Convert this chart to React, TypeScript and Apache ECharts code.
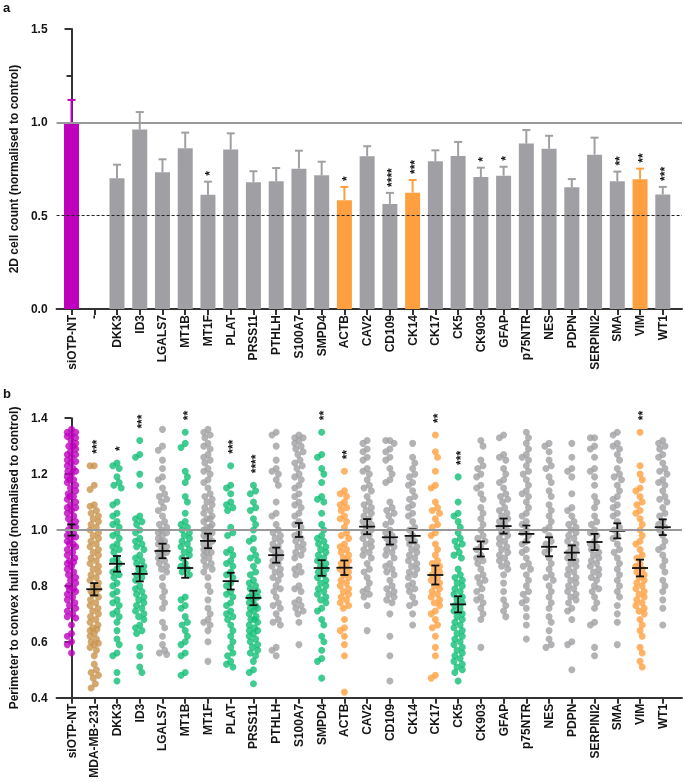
import React, { useEffect, useRef } from "react";
import * as echarts from "echarts";

// ---------- Panel a data ----------
const catsA = ["siOTP-NT", "-", "DKK3", "ID3", "LGALS7", "MT1B", "MT1F", "PLAT", "PRSS11", "PTHLH", "S100A7", "SMPD4", "ACTB", "CAV2", "CD109", "CK14", "CK17", "CK5", "CK903", "GFAP", "p75NTR", "NES", "PDPN", "SERPINI2", "SMA", "VIM", "WT1"];
const barValues = [1.0, null, 0.70, 0.961, 0.732, 0.861, 0.612, 0.854, 0.679, 0.684, 0.752, 0.716, 0.582, 0.818, 0.563, 0.623, 0.791, 0.82, 0.707, 0.714, 0.886, 0.859, 0.652, 0.827, 0.684, 0.695, 0.614];
const barErrors = [0.12, null, 0.073, 0.094, 0.07, 0.084, 0.07, 0.087, 0.059, 0.071, 0.096, 0.073, 0.072, 0.054, 0.059, 0.068, 0.059, 0.075, 0.05, 0.048, 0.073, 0.069, 0.044, 0.091, 0.052, 0.057, 0.04];
const barGroups = ["m", "", "g", "g", "g", "g", "g", "g", "g", "g", "g", "g", "o", "g", "g", "o", "g", "g", "g", "g", "g", "g", "g", "g", "g", "o", "g"];
const starsA = ["", "", "", "", "", "", "*", "", "", "", "", "", "*", "", "****", "***", "", "", "*", "*", "", "", "", "", "**", "**", "***"];
const ticksA = [0, 0.5, 1.0, 1.5];

// ---------- Panel b data ----------
const catsB = ["siOTP-NT", "MDA-MB-231", "DKK3", "ID3", "LGALS7", "MT1B", "MT1F", "PLAT", "PRSS11", "PTHLH", "S100A7", "SMPD4", "ACTB", "CAV2", "CD109", "CK14", "CK17", "CK5", "CK903", "GFAP", "p75NTR", "NES", "PDPN", "SERPINI2", "SMA", "VIM", "WT1"];
const groupsB = ["m", "t", "gr", "gr", "g", "gr", "g", "gr", "gr", "g", "g", "gr", "o", "g", "g", "g", "o", "gr", "g", "g", "g", "g", "g", "g", "g", "o", "g"];
const meansB = [1.0, 0.788, 0.879, 0.843, 0.925, 0.864, 0.961, 0.817, 0.757, 0.91, 1.0, 0.864, 0.865, 1.012, 0.974, 0.979, 0.839, 0.734, 0.932, 1.014, 0.986, 0.94, 0.919, 0.957, 0.997, 0.864, 1.01];
const semB = [0.02, 0.022, 0.028, 0.027, 0.026, 0.035, 0.026, 0.03, 0.026, 0.027, 0.025, 0.028, 0.026, 0.027, 0.026, 0.024, 0.034, 0.029, 0.027, 0.027, 0.03, 0.034, 0.026, 0.029, 0.027, 0.03, 0.028];
const starsB = ["", "***", "*", "***", "", "**", "", "***", "****", "", "", "**", "**", "", "", "", "**", "***", "", "", "", "", "", "", "", "**", ""];

const dotsSiOTP = [1.36, 1.35, 1.35, 1.34, 1.335, 1.33, 1.32, 1.31, 1.30, 1.30, 1.29, 1.28, 1.27, 1.27, 1.26, 1.25, 1.245, 1.24, 1.23, 1.22, 1.21, 1.21, 1.20, 1.19, 1.18, 1.18, 1.17, 1.16, 1.15, 1.14, 1.13, 1.12, 1.12, 1.11, 1.10, 1.09, 1.08, 1.08, 1.07, 1.06, 1.05, 1.04, 1.03, 1.02, 1.01, 1.00, 0.99, 0.98, 0.975, 0.97, 0.96, 0.95, 0.95, 0.94, 0.93, 0.92, 0.91, 0.90, 0.89, 0.885, 0.88, 0.87, 0.86, 0.85, 0.84, 0.83, 0.82, 0.81, 0.80, 0.79, 0.785, 0.78, 0.77, 0.76, 0.75, 0.74, 0.73, 0.72, 0.71, 0.70, 0.69, 0.685, 0.66, 0.63, 0.62, 0.60, 0.59, 0.56];
const dotsMDA = [1.23, 1.23, 1.16, 1.145, 1.09, 1.085, 1.07, 1.06, 1.05, 1.04, 1.03, 1.02, 1.01, 1.0, 0.99, 0.98, 0.97, 0.96, 0.95, 0.94, 0.93, 0.92, 0.91, 0.90, 0.89, 0.88, 0.87, 0.86, 0.85, 0.84, 0.83, 0.82, 0.81, 0.80, 0.79, 0.78, 0.775, 0.77, 0.76, 0.75, 0.74, 0.73, 0.72, 0.71, 0.70, 0.69, 0.68, 0.67, 0.66, 0.65, 0.645, 0.64, 0.63, 0.62, 0.61, 0.60, 0.595, 0.59, 0.58, 0.57, 0.55, 0.52, 0.50, 0.49, 0.48, 0.47, 0.45, 0.435];
const dotsDKK3 = [1.24, 1.23, 1.22, 1.19, 1.17, 1.16, 1.15, 1.10, 1.09, 1.06, 1.05, 1.03, 1.02, 1.01, 0.99, 0.98, 0.97, 0.95, 0.94, 0.93, 0.92, 0.90, 0.89, 0.88, 0.86, 0.85, 0.84, 0.83, 0.81, 0.80, 0.78, 0.77, 0.75, 0.74, 0.73, 0.71, 0.70, 0.69, 0.67, 0.64, 0.61, 0.59, 0.56, 0.55, 0.49, 0.46];
const dotsID3 = [1.32, 1.27, 1.26, 1.20, 1.16, 1.05, 1.04, 1.03, 1.02, 1.0, 0.99, 0.97, 0.96, 0.95, 0.94, 0.93, 0.91, 0.90, 0.89, 0.88, 0.87, 0.86, 0.85, 0.84, 0.83, 0.82, 0.80, 0.79, 0.78, 0.77, 0.76, 0.75, 0.74, 0.73, 0.72, 0.71, 0.70, 0.69, 0.68, 0.66, 0.65, 0.64, 0.63, 0.58, 0.55, 0.51, 0.49];
const dotsLGALS7 = [1.36, 1.30, 1.285, 1.25, 1.22, 1.19, 1.18, 1.15, 1.13, 1.12, 1.11, 1.10, 1.08, 1.07, 1.05, 1.03, 1.02, 1.01, 1.0, 0.99, 0.99, 0.98, 0.97, 0.96, 0.96, 0.95, 0.94, 0.93, 0.92, 0.92, 0.91, 0.90, 0.89, 0.88, 0.87, 0.86, 0.85, 0.83, 0.80, 0.78, 0.76, 0.74, 0.72, 0.67, 0.65, 0.62, 0.59, 0.57, 0.56, 0.555];
const dotsMT1B = [1.35, 1.31, 1.295, 1.21, 1.19, 1.17, 1.12, 1.10, 1.06, 1.03, 1.02, 1.01, 1.0, 0.99, 0.98, 0.97, 0.96, 0.95, 0.94, 0.93, 0.92, 0.91, 0.90, 0.88, 0.87, 0.86, 0.85, 0.84, 0.76, 0.75, 0.73, 0.72, 0.69, 0.67, 0.66, 0.64, 0.62, 0.60, 0.59, 0.56, 0.55, 0.49, 0.48];
const dotsMT1F = [1.36, 1.35, 1.34, 1.33, 1.31, 1.30, 1.29, 1.27, 1.26, 1.25, 1.24, 1.22, 1.21, 1.20, 1.18, 1.17, 1.15, 1.13, 1.12, 1.11, 1.10, 1.09, 1.08, 1.07, 1.06, 1.05, 1.04, 1.04, 1.03, 1.02, 1.01, 1.01, 1.0, 0.99, 0.99, 0.98, 0.97, 0.97, 0.96, 0.95, 0.94, 0.93, 0.92, 0.92, 0.91, 0.90, 0.89, 0.88, 0.87, 0.86, 0.85, 0.83, 0.80, 0.78, 0.75, 0.72, 0.70, 0.68, 0.67, 0.66, 0.64, 0.60, 0.53];
const dotsPLAT = [1.23, 1.16, 1.15, 1.13, 1.10, 1.09, 1.08, 1.07, 1.01, 0.99, 0.98, 0.93, 0.92, 0.91, 0.89, 0.88, 0.87, 0.85, 0.84, 0.83, 0.81, 0.80, 0.78, 0.77, 0.76, 0.74, 0.73, 0.71, 0.70, 0.69, 0.68, 0.66, 0.64, 0.62, 0.60, 0.58, 0.56, 0.55, 0.53, 0.52, 0.51];
const dotsPRSS11 = [1.16, 1.14, 1.13, 1.10, 1.08, 1.07, 1.04, 1.02, 1.0, 0.97, 0.96, 0.93, 0.91, 0.90, 0.89, 0.87, 0.85, 0.84, 0.82, 0.81, 0.80, 0.79, 0.78, 0.77, 0.76, 0.76, 0.75, 0.74, 0.73, 0.72, 0.72, 0.71, 0.70, 0.69, 0.68, 0.68, 0.67, 0.66, 0.65, 0.64, 0.64, 0.63, 0.62, 0.61, 0.60, 0.59, 0.58, 0.57, 0.56, 0.55, 0.53, 0.50, 0.49, 0.45];
const dotsPTHLH = [1.35, 1.34, 1.30, 1.25, 1.22, 1.21, 1.20, 1.18, 1.16, 1.10, 1.06, 1.05, 1.02, 1.0, 0.99, 0.98, 0.97, 0.96, 0.95, 0.94, 0.93, 0.92, 0.91, 0.90, 0.89, 0.88, 0.87, 0.86, 0.85, 0.84, 0.83, 0.82, 0.80, 0.79, 0.78, 0.76, 0.74, 0.73, 0.72, 0.70, 0.68, 0.67, 0.66, 0.58, 0.57, 0.55];
const dotsS100A7 = [1.34, 1.33, 1.33, 1.32, 1.31, 1.30, 1.29, 1.28, 1.27, 1.25, 1.24, 1.23, 1.22, 1.20, 1.19, 1.18, 1.16, 1.15, 1.13, 1.12, 1.10, 1.09, 1.08, 1.06, 1.05, 1.03, 1.02, 1.01, 0.99, 0.98, 0.97, 0.96, 0.95, 0.94, 0.93, 0.92, 0.91, 0.90, 0.87, 0.86, 0.85, 0.84, 0.80, 0.79, 0.78, 0.75, 0.74, 0.73, 0.72, 0.71, 0.70, 0.67, 0.59];
const dotsSMPD4 = [1.35, 1.27, 1.26, 1.22, 1.20, 1.17, 1.12, 1.11, 1.10, 1.06, 1.02, 1.0, 0.98, 0.97, 0.96, 0.95, 0.94, 0.93, 0.92, 0.91, 0.90, 0.89, 0.88, 0.87, 0.86, 0.85, 0.84, 0.83, 0.82, 0.81, 0.80, 0.79, 0.78, 0.77, 0.76, 0.75, 0.74, 0.72, 0.71, 0.68, 0.66, 0.62, 0.60, 0.57, 0.54, 0.53, 0.47];
const dotsACTB = [1.21, 1.14, 1.13, 1.12, 1.10, 1.09, 1.08, 1.07, 1.05, 1.04, 1.03, 1.01, 0.99, 0.98, 0.97, 0.95, 0.94, 0.93, 0.92, 0.91, 0.90, 0.89, 0.88, 0.87, 0.86, 0.85, 0.84, 0.83, 0.82, 0.81, 0.80, 0.79, 0.78, 0.77, 0.76, 0.75, 0.74, 0.73, 0.72, 0.68, 0.65, 0.64, 0.62, 0.59, 0.55, 0.42];
const dotsCAV2 = [1.32, 1.31, 1.29, 1.28, 1.26, 1.25, 1.22, 1.21, 1.20, 1.18, 1.16, 1.15, 1.14, 1.12, 1.10, 1.09, 1.08, 1.07, 1.06, 1.05, 1.04, 1.03, 1.02, 1.01, 1.0, 0.99, 0.98, 0.97, 0.96, 0.95, 0.94, 0.93, 0.92, 0.91, 0.90, 0.88, 0.86, 0.85, 0.83, 0.81, 0.79, 0.78, 0.77, 0.76, 0.73, 0.64];
const dotsCD109 = [1.32, 1.32, 1.31, 1.29, 1.28, 1.26, 1.25, 1.22, 1.20, 1.18, 1.17, 1.10, 1.08, 1.07, 1.06, 1.05, 1.03, 1.02, 1.0, 0.99, 0.98, 0.97, 0.96, 0.95, 0.94, 0.93, 0.92, 0.91, 0.90, 0.88, 0.87, 0.86, 0.85, 0.84, 0.82, 0.80, 0.79, 0.78, 0.77, 0.76, 0.75, 0.74, 0.70, 0.62, 0.55, 0.46];
const dotsCK14 = [1.31, 1.26, 1.24, 1.22, 1.20, 1.19, 1.17, 1.16, 1.14, 1.12, 1.11, 1.09, 1.08, 1.06, 1.05, 1.03, 1.01, 1.0, 0.98, 0.97, 0.96, 0.95, 0.94, 0.93, 0.92, 0.91, 0.90, 0.89, 0.88, 0.87, 0.86, 0.85, 0.84, 0.83, 0.81, 0.80, 0.79, 0.78, 0.76, 0.74, 0.73, 0.70, 0.66];
const dotsCK17 = [1.34, 1.28, 1.26, 1.21, 1.16, 1.15, 1.10, 1.08, 1.07, 1.06, 1.04, 1.02, 1.01, 0.99, 0.98, 0.95, 0.93, 0.91, 0.89, 0.88, 0.87, 0.86, 0.85, 0.84, 0.83, 0.82, 0.81, 0.80, 0.79, 0.78, 0.77, 0.76, 0.75, 0.74, 0.73, 0.71, 0.70, 0.68, 0.66, 0.65, 0.62, 0.58, 0.55, 0.48, 0.47];
const dotsCK5 = [1.19, 1.10, 1.06, 1.05, 1.03, 1.01, 0.99, 0.97, 0.96, 0.95, 0.94, 0.92, 0.91, 0.90, 0.86, 0.84, 0.83, 0.82, 0.81, 0.80, 0.79, 0.78, 0.77, 0.76, 0.75, 0.74, 0.73, 0.72, 0.71, 0.70, 0.69, 0.68, 0.67, 0.66, 0.65, 0.64, 0.63, 0.62, 0.61, 0.60, 0.59, 0.58, 0.57, 0.56, 0.55, 0.54, 0.53, 0.52, 0.51, 0.50, 0.49, 0.46];
const dotsCK903 = [1.32, 1.30, 1.25, 1.23, 1.22, 1.20, 1.19, 1.16, 1.15, 1.13, 1.11, 1.08, 1.06, 1.04, 1.02, 1.0, 0.98, 0.97, 0.96, 0.94, 0.93, 0.91, 0.90, 0.89, 0.88, 0.86, 0.84, 0.83, 0.82, 0.81, 0.79, 0.78, 0.76, 0.75, 0.74, 0.72, 0.70, 0.68, 0.58];
const dotsGFAP = [1.34, 1.33, 1.27, 1.26, 1.25, 1.22, 1.20, 1.18, 1.17, 1.15, 1.13, 1.12, 1.11, 1.10, 1.08, 1.07, 1.06, 1.05, 1.04, 1.03, 1.02, 1.01, 1.0, 0.99, 0.98, 0.97, 0.96, 0.95, 0.94, 0.93, 0.92, 0.91, 0.90, 0.89, 0.88, 0.87, 0.86, 0.84, 0.81, 0.78, 0.75, 0.73, 0.71, 0.69];
const dotsP75NTR = [1.35, 1.33, 1.31, 1.29, 1.27, 1.26, 1.25, 1.23, 1.21, 1.20, 1.18, 1.16, 1.14, 1.13, 1.12, 1.10, 1.08, 1.06, 1.05, 1.03, 1.02, 1.0, 0.99, 0.98, 0.96, 0.95, 0.93, 0.92, 0.90, 0.88, 0.87, 0.86, 0.84, 0.82, 0.80, 0.78, 0.77, 0.75, 0.74, 0.72, 0.69, 0.66, 0.61];
const dotsNES = [1.31, 1.30, 1.28, 1.25, 1.23, 1.22, 1.19, 1.17, 1.14, 1.12, 1.09, 1.07, 1.05, 1.03, 1.01, 1.0, 0.98, 0.96, 0.95, 0.93, 0.92, 0.90, 0.88, 0.86, 0.84, 0.83, 0.82, 0.80, 0.78, 0.76, 0.74, 0.72, 0.69, 0.67, 0.64, 0.61, 0.59, 0.58];
const dotsPDPN = [1.31, 1.26, 1.22, 1.21, 1.19, 1.13, 1.08, 1.07, 1.05, 1.03, 1.02, 1.01, 1.0, 0.99, 0.98, 0.97, 0.96, 0.95, 0.94, 0.93, 0.92, 0.91, 0.90, 0.89, 0.88, 0.87, 0.86, 0.85, 0.84, 0.83, 0.82, 0.81, 0.80, 0.79, 0.78, 0.77, 0.76, 0.75, 0.74, 0.72, 0.71, 0.68, 0.60, 0.59, 0.50];
const dotsSERPINI2 = [1.33, 1.33, 1.30, 1.29, 1.26, 1.22, 1.21, 1.19, 1.16, 1.12, 1.10, 1.08, 1.05, 1.03, 1.02, 1.0, 0.99, 0.98, 0.96, 0.95, 0.94, 0.93, 0.92, 0.91, 0.90, 0.89, 0.88, 0.87, 0.86, 0.85, 0.84, 0.83, 0.82, 0.80, 0.79, 0.78, 0.76, 0.74, 0.72, 0.67, 0.66, 0.58, 0.55];
const dotsSMA = [1.35, 1.34, 1.31, 1.30, 1.29, 1.27, 1.25, 1.22, 1.20, 1.19, 1.18, 1.16, 1.14, 1.12, 1.11, 1.09, 1.08, 1.06, 1.05, 1.03, 1.01, 1.0, 0.98, 0.97, 0.95, 0.93, 0.92, 0.90, 0.88, 0.86, 0.84, 0.82, 0.80, 0.78, 0.76, 0.73, 0.70, 0.67, 0.59];
const dotsVIM = [1.35, 1.23, 1.20, 1.18, 1.15, 1.14, 1.12, 1.10, 1.09, 1.07, 1.06, 1.04, 1.02, 1.0, 0.98, 0.96, 0.95, 0.93, 0.91, 0.90, 0.88, 0.87, 0.86, 0.85, 0.84, 0.83, 0.82, 0.81, 0.80, 0.79, 0.78, 0.77, 0.76, 0.75, 0.74, 0.73, 0.72, 0.71, 0.70, 0.68, 0.66, 0.64, 0.62, 0.58, 0.56, 0.53, 0.51];
const dotsWT1 = [1.32, 1.31, 1.30, 1.29, 1.27, 1.26, 1.24, 1.22, 1.21, 1.20, 1.18, 1.17, 1.16, 1.14, 1.12, 1.11, 1.10, 1.08, 1.06, 1.05, 1.03, 1.02, 1.01, 1.0, 0.98, 0.96, 0.94, 0.93, 0.91, 0.89, 0.87, 0.85, 0.82, 0.80, 0.78, 0.75, 0.72, 0.66];

const dotsB = [dotsSiOTP, dotsMDA, dotsDKK3, dotsID3, dotsLGALS7, dotsMT1B, dotsMT1F, dotsPLAT, dotsPRSS11, dotsPTHLH, dotsS100A7, dotsSMPD4, dotsACTB, dotsCAV2, dotsCD109, dotsCK14, dotsCK17, dotsCK5, dotsCK903, dotsGFAP, dotsP75NTR, dotsNES, dotsPDPN, dotsSERPINI2, dotsSMA, dotsVIM, dotsWT1];
const ticksB = [0.4, 0.6, 0.8, 1.0, 1.2, 1.4];

// ---------- styling ----------
const COLORS: Record<string, string> = {
  m: "#BE00BE",
  g: "#A0A0A4",
  o: "#FFA040",
  t: "#C8934C",
  gr: "#10BE74",
};
const FONT = "Liberation Sans, Arial, sans-serif";
const AXIS_COLOR = "#333333";
const TEXT_COLOR = "#151515";
const W = 685;
const H = 782;
const GRID_LEFT = 54;
const GRID_RIGHT = 3;
const X_MIN = -0.657;
const X_MAX = 26.845;
const A_TOP = 29, A_H = 280;
const B_TOP = 418.2, B_H = 279.5;

function swarm(values: number[], pxY: number, pxX: number, diam: number, maxHalf: number) {
  const sorted = values.slice().sort((a, b) => b - a);
  const placed: { x: number; y: number }[] = [];
  const out: [number, number][] = [];
  for (const v of sorted) {
    const y = -v * pxY;
    const cands = [0];
    for (const p of placed) {
      const dy = Math.abs(p.y - y);
      if (dy < diam) {
        const dx = Math.sqrt(diam * diam - dy * dy);
        cands.push(p.x + dx, p.x - dx);
      }
    }
    const ok = cands.filter(
      (x) => Math.abs(x) <= maxHalf + 1e-6 && placed.every((p) => (p.x - x) ** 2 + (p.y - y) ** 2 >= diam * diam - 1e-6)
    );
    let best = 0;
    if (ok.length) {
      best = ok.reduce((a, b) => (Math.abs(b) < Math.abs(a) - 1e-9 ? b : a));
    } else {
      let bestScore = -1;
      for (let k = -8; k <= 8; k++) {
        const x = (maxHalf * k) / 8;
        let md = Infinity;
        for (const p of placed) md = Math.min(md, Math.hypot(p.x - x, p.y - y));
        if (md > bestScore + 1e-9) {
          bestScore = md;
          best = x;
        }
      }
    }
    placed.push({ x: best, y });
    out.push([best / pxX, v]);
  }
  return out;
}

function xAxisFor(gridIndex: number, names: string[]) {
  const idx = names.map((_, i) => i);
  return {
    type: "value",
    gridIndex,
    min: X_MIN,
    max: X_MAX,
    axisLine: { show: true, lineStyle: { color: AXIS_COLOR, width: 2 } },
    axisTick: { show: true, customValues: idx, length: 6, lineStyle: { color: AXIS_COLOR, width: 2 } },
    axisLabel: {
      show: true,
      customValues: idx,
      rotate: 90,
      margin: 6,
      fontSize: 12,
      fontWeight: "bold",
      fontFamily: FONT,
      color: TEXT_COLOR,
      formatter: (v: number) => names[Math.round(v)] ?? "",
    },
    splitLine: { show: false },
  };
}

export default function App() {
  const ref = useRef<HTMLDivElement>(null);
  useEffect(() => {
    if (!ref.current) return;
    const chart = echarts.init(ref.current, undefined, { renderer: "svg" });
    const plotW = W - GRID_LEFT - GRID_RIGHT;
    const pxPerX = plotW / (X_MAX - X_MIN);
    const pxPerYB = B_H / 1.0;

    // panel a
    const barData: any[] = [];
    const errData: any[] = [];
    const starAData: any[] = [];
    barValues.forEach((v, i) => {
      if (v == null) return;
      const c = COLORS[barGroups[i]];
      barData.push({ value: [i, v], itemStyle: { color: c } });
      errData.push([i, v, v + (barErrors[i] as number)]);
      if (starsA[i]) starAData.push([i, v + (barErrors[i] as number)]);
    });

    // panel b
    const dotData: any[] = [];
    dotsB.forEach((vals, i) => {
      const c = COLORS[groupsB[i]];
      swarm(vals, pxPerYB, pxPerX, 6, 4.2).forEach(([dx, v]) => {
        dotData.push({ value: [i + dx, v], itemStyle: { color: c } });
      });
    });
    const meanData = meansB.map((m, i) => [i, m, m - semB[i], m + semB[i]]);
    const starBData: any[] = [];
    starsB.forEach((s, i) => {
      if (s) starBData.push([i, Math.max(...dotsB[i])]);
    });

    const yAxisCommon = {
      type: "value",
      nameLocation: "middle",
      nameRotate: 90,
      nameGap: 27,
      nameTextStyle: { fontSize: 12, fontWeight: "bold", fontFamily: FONT, color: TEXT_COLOR },
      axisLine: { show: true, lineStyle: { color: AXIS_COLOR, width: 2 } },
      axisTick: { show: true, length: 7, lineStyle: { color: AXIS_COLOR, width: 2 } },
      axisLabel: {
        fontSize: 12,
        fontWeight: "bold",
        fontFamily: FONT,
        color: TEXT_COLOR,
        margin: 9,
        formatter: (v: number) => v.toFixed(1),
      },
      splitLine: { show: false },
    };

    const errRender = (params: any, api: any) => {
      const i = Math.round(api.value(0));
      const c = COLORS[barGroups[i]];
      const p0 = api.coord([api.value(0), api.value(1)]);
      const p1 = api.coord([api.value(0), api.value(2)]);
      return {
        type: "group",
        children: [
          { type: "line", shape: { x1: p0[0], y1: p0[1], x2: p1[0], y2: p1[1] }, style: { stroke: c, lineWidth: 2 } },
          { type: "line", shape: { x1: p1[0] - 4, y1: p1[1], x2: p1[0] + 4, y2: p1[1] }, style: { stroke: c, lineWidth: 2 } },
        ],
      };
    };
    const starRender = (texts: string[], gap: number) => (params: any, api: any) => {
      const i = Math.round(api.value(0));
      const p = api.coord([api.value(0), api.value(1)]);
      return {
        type: "text",
        x: p[0] + 2.5,
        y: p[1] - gap,
        rotation: Math.PI / 2,
        style: {
          text: texts[i],
          fill: "#141414",
          fontSize: 12,
          fontWeight: "bold",
          fontFamily: FONT,
          align: "left",
          verticalAlign: "middle",
        },
      };
    };
    const meanRender = (params: any, api: any) => {
      const x = api.value(0);
      const pm = api.coord([x, api.value(1)]);
      const pl = api.coord([x, api.value(2)]);
      const ph = api.coord([x, api.value(3)]);
      const s = { stroke: "#111", lineWidth: 1.8 };
      return {
        type: "group",
        children: [
          { type: "line", shape: { x1: pm[0] - 8, y1: pm[1], x2: pm[0] + 8, y2: pm[1] }, style: s },
          { type: "line", shape: { x1: ph[0], y1: ph[1], x2: pl[0], y2: pl[1] }, style: s },
          { type: "line", shape: { x1: ph[0] - 4, y1: ph[1], x2: ph[0] + 4, y2: ph[1] }, style: s },
          { type: "line", shape: { x1: pl[0] - 4, y1: pl[1], x2: pl[0] + 4, y2: pl[1] }, style: s },
        ],
      };
    };

    const option: any = {
      animation: false,
      backgroundColor: "transparent",
      textStyle: { fontFamily: FONT },
      grid: [
        { left: GRID_LEFT, right: GRID_RIGHT, top: A_TOP, height: A_H },
        { left: GRID_LEFT, right: GRID_RIGHT, top: B_TOP, height: B_H },
      ],
      xAxis: [xAxisFor(0, catsA), xAxisFor(1, catsB)],
      yAxis: [
        {
          ...yAxisCommon,
          gridIndex: 0,
          min: ticksA[0],
          max: ticksA[ticksA.length - 1],
          interval: 0.5,
          name: "2D cell count (normalised to control)",
          minorTick: { show: true, splitNumber: 2, length: 5, lineStyle: { color: AXIS_COLOR, width: 2 } },
        },
        {
          ...yAxisCommon,
          gridIndex: 1,
          min: ticksB[0],
          max: ticksB[ticksB.length - 1],
          interval: 0.2,
          name: "Perimeter to convex hull ratio (normalised to control)",
        },
      ],
      graphic: [
        { type: "text", left: 3, top: 1, style: { text: "a", font: `bold 13px ${FONT}`, fill: "#111" } },
        { type: "text", left: 3, top: 387, style: { text: "b", font: `bold 13px ${FONT}`, fill: "#111" } },
      ],
      series: [
        {
          type: "bar",
          xAxisIndex: 0,
          yAxisIndex: 0,
          barWidth: 15,
          data: barData,
          z: 2,
        },
        {
          type: "custom",
          xAxisIndex: 0,
          yAxisIndex: 0,
          renderItem: errRender,
          data: errData,
          z: 3,
          markLine: {
            silent: true,
            symbol: "none",
            label: { show: false },
            data: [
              { yAxis: 1.0, lineStyle: { color: "#999999", width: 2, type: "solid" } },
              { yAxis: 0.5, lineStyle: { color: "#222", width: 1, type: [3, 2] } },
            ],
          },
        },
        {
          type: "custom",
          xAxisIndex: 0,
          yAxisIndex: 0,
          itemStyle: { color: "#141414" },
          renderItem: starRender(starsA, 6),
          data: starAData,
          z: 4,
        },
        {
          type: "scatter",
          xAxisIndex: 1,
          yAxisIndex: 1,
          symbolSize: 7,
          data: dotData,
          z: 2,
        },
        {
          type: "custom",
          xAxisIndex: 1,
          yAxisIndex: 1,
          renderItem: meanRender,
          data: meanData,
          z: 4,
          markLine: {
            silent: true,
            symbol: "none",
            label: { show: false },
            data: [{ yAxis: 1.0, lineStyle: { color: "#999999", width: 2, type: "solid" } }],
          },
        },
        {
          type: "custom",
          xAxisIndex: 1,
          yAxisIndex: 1,
          itemStyle: { color: "#141414" },
          renderItem: starRender(starsB, 12),
          data: starBData,
          z: 4,
        },
      ],
    };
    chart.setOption(option);
    return () => chart.dispose();
  }, []);
  return (
    <div
      ref={ref}
      style={{ position: "absolute", left: 0, top: 0, width: W, height: H, willChange: "transform" }}
    />
  );
}
